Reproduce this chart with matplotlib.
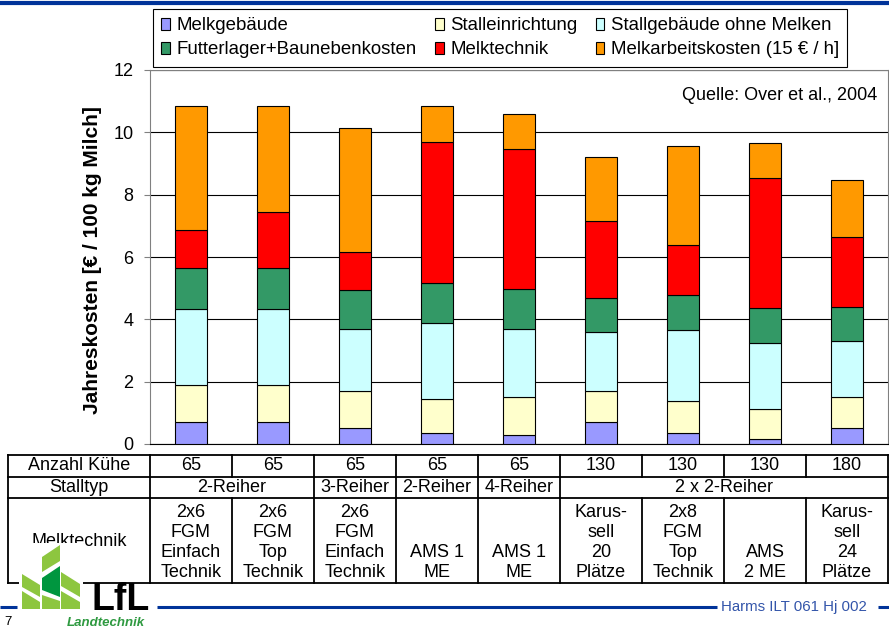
import numpy as np
import matplotlib
matplotlib.use("Agg")
import matplotlib.pyplot as plt
import matplotlib.transforms as mtransforms
from matplotlib.patches import Polygon, Rectangle

plt.rcParams['font.family'] = ['Liberation Sans', 'DejaVu Sans']

# Varianten (Spalten der Tabelle)
kuehe = ['65', '65', '65', '65', '65', '130', '130', '130', '180']
stalltyp = [('2-Reiher', 0, 1), ('3-Reiher', 2, 2), ('2-Reiher', 3, 3),
            ('4-Reiher', 4, 4), ('2 x 2-Reiher', 5, 8)]
melktechnik_txt = ['2x6\nFGM\nEinfach\nTechnik', '2x6\nFGM\nTop\nTechnik',
                   '2x6\nFGM\nEinfach\nTechnik', 'AMS 1\nME', 'AMS 1\nME',
                   'Karus-\nsell\n20\nPlätze', '2x8\nFGM\nTop\nTechnik',
                   'AMS\n2 ME', 'Karus-\nsell\n24\nPlätze']

# Jahreskosten [€ / 100 kg Milch], von unten nach oben gestapelt
melkgebaeude = [0.70, 0.70, 0.50, 0.34, 0.29, 0.69, 0.34, 0.16, 0.52]
stalleinrichtung = [1.20, 1.20, 1.20, 1.10, 1.21, 1.02, 1.04, 0.97, 1.00]
stallgebaeude = [2.44, 2.44, 1.99, 2.43, 2.19, 1.87, 2.28, 2.10, 1.79]
futterlager = [1.31, 1.31, 1.25, 1.30, 1.28, 1.12, 1.13, 1.14, 1.10]
melktechnik = [1.23, 1.78, 1.22, 4.53, 4.51, 2.45, 1.59, 4.18, 2.24]
melkarbeit = [3.95, 3.40, 3.97, 1.13, 1.12, 2.06, 3.17, 1.11, 1.83]

serien = [
    ('Melkgebäude', melkgebaeude, '#9999ff'),
    ('Stalleinrichtung', stalleinrichtung, '#ffffcc'),
    ('Stallgebäude ohne Melken', stallgebaeude, '#ccffff'),
    ('Futterlager+Baunebenkosten', futterlager, '#339966'),
    ('Melktechnik', melktechnik, '#ff0000'),
    ('Melkarbeitskosten (15 € / h]', melkarbeit, '#ff9900'),
]

W, H = 889, 628
fig = plt.figure(figsize=(W / 100, H / 100), dpi=100)
ax = fig.add_axes([150 / W, 1 - 444 / H, 738 / W, 374 / H])

x = np.arange(len(kuehe))
unten = np.zeros(len(x))
handles = {}
for name, werte, farbe in serien:
    b = ax.bar(x, werte, 0.4, bottom=unten, color=farbe, edgecolor='black',
               linewidth=0.8, label=name, zorder=3)
    handles[name] = b
    unten += np.array(werte)

ax.set_xlim(-0.5, 8.5)
ax.set_ylim(0, 12)
ax.set_yticks(range(0, 13, 2))
ax.set_xticks([])
ax.tick_params(axis='y', length=4, color='#808080', labelsize=13, pad=8)
ax.yaxis.grid(True, color='black', linewidth=0.8)
ax.set_axisbelow(True)
for s in ['left', 'top', 'right']:
    ax.spines[s].set_color('#808080')
ax.spines['bottom'].set_color('black')

ax.text(0.986, 0.933, 'Quelle: Over et al., 2004', transform=ax.transAxes,
        ha='right', va='center', fontsize=13)

fig.text(93 / W, 1 - 260 / H, 'Jahreskosten [€ / 100 kg Milch]', rotation=90,
         ha='center', va='center', fontsize=15, fontweight='bold')

# Legende: 3 Spalten, zeilenweise wie im Original
reihenfolge = ['Melkgebäude', 'Futterlager+Baunebenkosten', 'Stalleinrichtung',
               'Melktechnik', 'Stallgebäude ohne Melken',
               'Melkarbeitskosten (15 € / h]']
leg = fig.legend([handles[n] for n in reihenfolge], reihenfolge, ncol=3,
                 loc='upper left', bbox_to_anchor=(153 / W, 1 - 9 / H),
                 borderaxespad=0, fontsize=13.4, frameon=True, fancybox=False,
                 edgecolor='black', framealpha=1, handlelength=0.45,
                 handleheight=0.6, handletextpad=0.35, columnspacing=1.0,
                 labelspacing=0.38, borderpad=0.45)
leg.get_frame().set_linewidth(0.8)

# Tabelle unter dem Diagramm
tr = mtransforms.blended_transform_factory(ax.transData, fig.transFigure)
x_links = -0.5 - 142 / 82
y_top, y_r1, y_r2, y_bot = [1 - p / H for p in (455, 477, 498, 583)]
lk = dict(color='black', linewidth=1.3, transform=tr, clip_on=False)

for yy in (y_top, y_r1, y_r2, y_bot):
    ax.plot([x_links, 8.5], [yy, yy], **lk)
for xx in (x_links, 8.5):
    ax.plot([xx, xx], [y_top, y_bot], **lk)
for i in range(len(x)):
    xb = i - 0.5
    ax.plot([xb, xb], [y_top, y_r1], **lk)
    ax.plot([xb, xb], [y_r2, y_bot], **lk)
for name, a, e in stalltyp:
    ax.plot([a - 0.5, a - 0.5], [y_r1, y_r2], **lk)

x_lab = (x_links - 0.5) / 2
tk = dict(transform=tr, fontsize=13, ha='center')
ax.text(x_lab, (y_top + y_r1) / 2, 'Anzahl Kühe', va='center', **tk)
ax.text(x_lab, (y_r1 + y_r2) / 2, 'Stalltyp', va='center', **tk)
ax.text(x_lab, 1 - 541 / H, 'Melktechnik', va='center', **tk)
for i, k in enumerate(kuehe):
    ax.text(i, (y_top + y_r1) / 2, k, va='center', **tk)
for name, a, e in stalltyp:
    ax.text((a + e) / 2, (y_r1 + y_r2) / 2, name, va='center', **tk)
for i, t in enumerate(melktechnik_txt):
    ax.text(i, 1 - 581 / H, t, va='bottom', multialignment='center',
            linespacing=1.22, **tk)

# Kopf- und Fusszeile mit Logo
deco = fig.add_axes([0, 0, 1, 1], zorder=10)
deco.set_xlim(0, W)
deco.set_ylim(H, 0)
deco.axis('off')
blau = '#003399'
deco.plot([0, W], [3, 3], color=blau, linewidth=3, solid_capstyle='butt')
for a, e in [(0, 17), (157, 717), (878, W)]:
    deco.plot([a, e], [607, 607], color=blau, linewidth=2.2, solid_capstyle='butt')

deco.add_patch(Rectangle((19, 543), 64, 68, facecolor='white', edgecolor='none'))
hell, dunkel = '#8dc63f', '#00963f'
blaetter = [
    ([(22, 574), (40, 585), (40, 597), (22, 587)], hell),
    ([(22, 591), (40, 602), (40, 609), (22, 609)], hell),
    ([(42, 572), (42, 557), (60, 545), (60, 561)], hell),
    ([(42, 590), (42, 578), (60, 566), (60, 597)], dunkel),
    ([(42, 595), (60, 601), (60, 609), (42, 609)], hell),
    ([(61, 572), (80, 584), (80, 597), (61, 586)], hell),
    ([(61, 591), (80, 602), (80, 609), (61, 609)], hell),
]
for pts, c in blaetter:
    deco.add_patch(Polygon(pts, closed=True, facecolor=c, edgecolor='none'))

deco.text(91, 610, 'LfL', fontsize=27, fontweight='bold', ha='left',
          va='baseline', color='black')
deco.text(67, 623, 'Landtechnik', fontsize=9.5, fontweight='bold',
          fontstyle='italic', color='#2f9a41', ha='left', va='center')
deco.text(4, 622, '7', fontsize=9.5, ha='left', va='center')
deco.text(721, 607, 'Harms ILT 061 Hj 002', fontsize=10.8, color='#3355aa',
          ha='left', va='center')

fig.savefig('out.png', dpi=100)
